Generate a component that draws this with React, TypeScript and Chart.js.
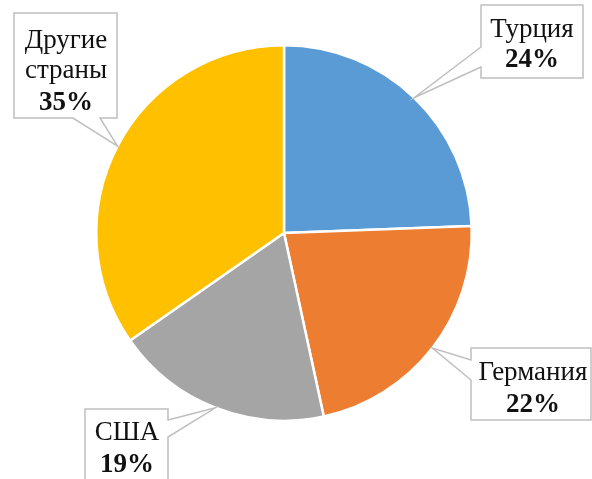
import React, { useEffect, useRef } from "react";
import { Chart, registerables } from "chart.js";

Chart.register(...registerables);

const categories = ["Турция", "Германия", "США", "Другие страны"];
const values = [24.4, 22.2, 18.7, 34.7];
const labelLines = [["Турция"], ["Германия"], ["США"], ["Другие", "страны"]];
const percentLabels = ["24%", "22%", "19%", "35%"];
const colors = ["#5B9BD5", "#ED7D31", "#A5A5A5", "#FFC000"];

// callout box layout: l,t,r,b, side of wedge, wedge span (a,bb), text centre x, text baselines
const boxes = [
  { l: 481, t: 5, r: 583, b: 78, side: "left", a: 47, bb: 67, cx: 532, lines: [37, 67] },
  { l: 471, t: 348, r: 591, b: 420, side: "left", a: 360, bb: 380, cx: 533, lines: [380, 412] },
  { l: 85, t: 409, r: 168, b: 495, side: "right", a: 420, bb: 437, cx: 127, lines: [440, 472] },
  { l: 14, t: 13, r: 117, b: 118, side: "bottom", a: 73, bb: 100, cx: 66, lines: [48, 78, 110] },
];

const calloutPlugin = {
  id: "callouts",
  afterDatasetsDraw(chart: any) {
    const ctx = chart.ctx;
    const meta = chart.getDatasetMeta(0);
    meta.data.forEach((arc: any, i: number) => {
      const p = arc.getProps(["x", "y", "startAngle", "endAngle", "outerRadius"], true);
      const mid = (p.startAngle + p.endAngle) / 2;
      const tx = p.x + Math.cos(mid) * p.outerRadius;
      const ty = p.y + Math.sin(mid) * p.outerRadius;
      const bx = boxes[i];
      ctx.save();
      ctx.beginPath();
      ctx.moveTo(bx.l, bx.t);
      if (bx.side === "top") {
        ctx.lineTo(bx.a, bx.t); ctx.lineTo(tx, ty); ctx.lineTo(bx.bb, bx.t);
      }
      ctx.lineTo(bx.r, bx.t);
      if (bx.side === "right") {
        ctx.lineTo(bx.r, bx.a); ctx.lineTo(tx, ty); ctx.lineTo(bx.r, bx.bb);
      }
      ctx.lineTo(bx.r, bx.b);
      if (bx.side === "bottom") {
        ctx.lineTo(bx.bb, bx.b); ctx.lineTo(tx, ty); ctx.lineTo(bx.a, bx.b);
      }
      ctx.lineTo(bx.l, bx.b);
      if (bx.side === "left") {
        ctx.lineTo(bx.l, bx.bb); ctx.lineTo(tx, ty); ctx.lineTo(bx.l, bx.a);
      }
      ctx.closePath();
      ctx.fillStyle = "#ffffff";
      ctx.fill();
      ctx.lineWidth = 1.5;
      ctx.strokeStyle = "#BFBFBF";
      ctx.stroke();
      ctx.fillStyle = "#111111";
      ctx.textAlign = "center";
      ctx.textBaseline = "alphabetic";
      const names = labelLines[i];
      names.forEach((ln, k) => {
        ctx.font = "27px 'Liberation Serif', 'Times New Roman', serif";
        ctx.fillText(ln, bx.cx, bx.lines[k]);
      });
      ctx.font = "bold 27px 'Liberation Serif', 'Times New Roman', serif";
      ctx.fillText(percentLabels[i], bx.cx, bx.lines[names.length]);
      ctx.restore();
    });
  },
};

export default function App() {
  const ref = useRef<HTMLCanvasElement>(null);
  useEffect(() => {
    if (!ref.current) return;
    const chart = new Chart(ref.current, {
      type: "pie",
      data: {
        labels: categories,
        datasets: [
          {
            data: values,
            backgroundColor: colors,
            borderColor: "#ffffff",
            borderWidth: 2.5,
          },
        ],
      },
      options: {
        responsive: false,
        animation: false,
        layout: { padding: { left: 95, top: 44, right: 119, bottom: 57 } },
        plugins: { legend: { display: false }, tooltip: { enabled: false } },
      },
      plugins: [calloutPlugin],
    });
    return () => chart.destroy();
  }, []);
  return (
    <div style={{ position: "absolute", left: 0, top: 0, width: 592, height: 479, background: "#fff" }}>
      <canvas ref={ref} width={592} height={479} />
    </div>
  );
}
